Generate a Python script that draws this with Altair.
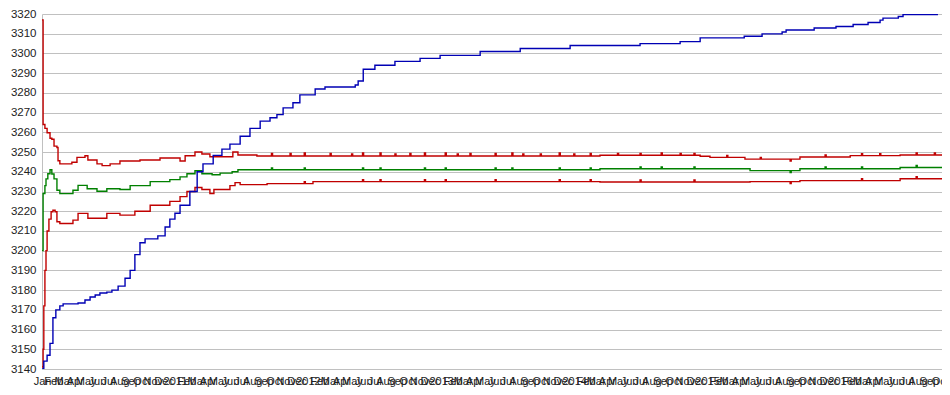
import altair as alt
import pandas as pd

START = pd.Timestamp("2010-01-01")

# day offsets from start, values
blue_day = [0, 5, 14, 22, 30, 38, 49, 58, 99, 118, 132, 146, 159, 178, 192, 209, 228, 242, 255, 269, 283, 318,
            338, 351, 365, 379, 406, 426, 442, 470, 494, 516, 544, 571, 599, 626, 645, 662, 689, 708, 750, 777,
            860, 868, 882, 914, 969, 1038, 1093, 1203, 1313, 1450, 1642, 1752, 1807, 1928, 1977, 2032, 2043,
            2120, 2180, 2227, 2268, 2301, 2309, 2351, 2364, 2458, 2493]
blue_val = [3140, 3144, 3147, 3153, 3166, 3170, 3172, 3173, 3173.5, 3175, 3176.5, 3177.5, 3178.5, 3179, 3180,
            3182, 3186, 3190, 3198, 3204, 3206, 3207.5, 3212, 3216, 3219, 3223, 3230, 3240, 3244, 3248.3, 3251.5,
            3254, 3258, 3262, 3265.7, 3267.4, 3269, 3272.4, 3275, 3279, 3282, 3283, 3284, 3286, 3292, 3294, 3296,
            3297.5, 3299, 3301, 3302.5, 3304, 3305, 3306, 3307.9, 3308.7, 3309.9, 3310.9, 3311.9, 3312.9, 3313.7,
            3314.7, 3315.7, 3316.9, 3317.9, 3318.7, 3319.7, 3320.7, 3320.7]

upper_day = [0, 3, 8, 14, 22, 27, 33, 41, 44, 49, 82, 96, 118, 126, 151, 165, 187, 214, 269, 324, 379, 393, 420,
             439, 461, 524, 538, 590, 630, 633, 681, 684, 720, 723, 791, 794, 850, 853, 880, 883, 928, 931, 969,
             972, 1010, 1013, 1050, 1053, 1107, 1110, 1140, 1143, 1175, 1178, 1244, 1247, 1290, 1293, 1320, 1323,
             1368, 1371, 1420, 1423, 1460, 1463, 1505, 1508, 1532, 1580, 1583, 1642, 1645, 1700, 1703, 1752, 1755,
             1790, 1793, 1807, 1834, 1880, 1883, 1930, 1972, 1975, 2054, 2057, 2081, 2150, 2153, 2219, 2250, 2253,
             2300, 2303, 2356, 2400, 2403, 2450, 2453, 2493]
upper_val = [3317, 3264, 3262, 3259.8, 3257, 3256.5, 3253, 3252.3, 3245.6, 3244, 3244.8, 3247.3, 3248.1, 3246,
             3244, 3243.1, 3244, 3245.5, 3246, 3247, 3245.5, 3248.1, 3250, 3249, 3247.6, 3250, 3248.5, 3248,
             3249.3, 3248, 3249.3, 3248, 3249.5, 3248, 3249.3, 3248, 3249, 3248, 3249.5, 3248, 3249.5, 3248, 3249,
             3248, 3249.3, 3248, 3249.5, 3248, 3249.5, 3248, 3249, 3248, 3249.3, 3248, 3249.3, 3248, 3249.5, 3248,
             3249, 3248, 3249, 3248, 3249.5, 3248, 3249, 3248, 3249.3, 3248, 3248.4, 3249.3, 3248.4, 3249.3,
             3248.4, 3249.5, 3248.4, 3249.3, 3248.4, 3249.3, 3248.4, 3247.9, 3247.3, 3248.3, 3247.3, 3246.4,
             3247.3, 3246.4, 3245.5, 3246.4, 3247.5, 3248.5, 3247.5, 3248.2, 3249.2, 3248.2, 3249.2, 3248.2,
             3248.5, 3249.5, 3248.5, 3249.5, 3248.5, 3248.5]

mid_day = [0, 3, 8, 11, 16, 22, 27, 33, 41, 49, 85, 99, 124, 151, 178, 214, 242, 297, 351, 379, 398, 420, 439,
           467, 489, 522, 538, 630, 633, 720, 723, 880, 883, 928, 931, 1050, 1053, 1107, 1110, 1244, 1247, 1290,
           1293, 1420, 1423, 1505, 1508, 1532, 1642, 1645, 1700, 1703, 1790, 1793, 1944, 2054, 2057, 2081, 2150,
           2153, 2250, 2253, 2356, 2400, 2403, 2493]
mid_val = [3200, 3229, 3233, 3236.4, 3239, 3241, 3238.9, 3236.4, 3230.6, 3228.9, 3230.6, 3233.1, 3231.4, 3230.1,
           3231.4, 3231, 3233, 3235, 3236, 3237.4, 3239, 3240.5, 3239, 3238.5, 3239.3, 3240, 3241, 3242, 3241,
           3242, 3241, 3242, 3241, 3242, 3241, 3242, 3241, 3242, 3241, 3242, 3241, 3242, 3241, 3242, 3241, 3242,
           3241, 3241.5, 3242.5, 3241.5, 3242.5, 3241.5, 3242.5, 3241.5, 3240.6, 3239.6, 3240.6, 3241.5, 3242.5,
           3241.5, 3242.5, 3241.5, 3242.2, 3243.2, 3242.2, 3242.2]

lower_day = [0, 3, 5, 8, 11, 14, 19, 25, 30, 36, 41, 49, 85, 99, 126, 178, 214, 255, 297, 351, 379, 398, 420, 439,
             461, 472, 516, 530, 544, 618, 720, 723, 744, 880, 883, 928, 931, 1050, 1053, 1107, 1110, 1244, 1247,
             1420, 1423, 1505, 1508, 1532, 1642, 1645, 1790, 1793, 1944, 2054, 2057, 2081, 2250, 2253, 2356, 2400,
             2403, 2493]
lower_val = [3141, 3150, 3172, 3190, 3200, 3210, 3216, 3219.7, 3220.5, 3219.7, 3214.7, 3213.8, 3215.5, 3218.9,
             3216.4, 3218.9, 3218, 3220, 3223, 3225, 3227.4, 3230, 3232, 3231, 3229, 3231, 3233, 3234.5, 3233.5,
             3234, 3235, 3234, 3235, 3236, 3235, 3236, 3235, 3236, 3235, 3236, 3235, 3236, 3235, 3236, 3235, 3236,
             3235, 3234.8, 3235.8, 3234.8, 3235.8, 3234.8, 3235, 3234, 3235, 3235.5, 3236.5, 3235.5, 3236.5,
             3237.5, 3236.5, 3236.5]

Y_TICKS = list(range(3140, 3321, 10))
FONT = "Liberation Sans"


def frame(days, vals):
    return pd.DataFrame({"date": START + pd.to_timedelta(days, unit="D"), "value": vals})


x_enc = alt.X(
    "date:T",
    scale=alt.Scale(domain=[alt.DateTime(year=2010, month=1, date=1), alt.DateTime(year=2016, month=10, date=7)],
                    nice=False),
    axis=alt.Axis(
        title=None, grid=False, ticks=False, labelPadding=6, labelOverlap=False, labelFlush=False,
        tickCount=alt.TimeIntervalStep(interval="month", step=1),
        labelExpr="month(datum.value) == 0 ? (year(datum.value) == 2010 ? 'Jan' : timeFormat(datum.value, '%Y')) : timeFormat(datum.value, '%b')",
        domainColor="#c0c0c0", labelFont=FONT, labelFontSize=11, labelColor="#222222",
    ),
)
y_enc = alt.Y(
    "value:Q",
    scale=alt.Scale(domain=[3140, 3320], nice=False, zero=False),
    axis=alt.Axis(
        title=None, values=Y_TICKS, format="d", grid=True, gridColor="#c0c0c0", ticks=False, labelPadding=6,
        domainColor="#c0c0c0", labelFont=FONT, labelFontSize=11.5, labelColor="#222222",
    ),
)


def line(days, vals, color):
    return alt.Chart(frame(days, vals)).mark_line(
        interpolate="step-after", color=color, strokeWidth=1.4, clip=True
    ).encode(x=x_enc, y=y_enc)


chart = alt.layer(
    line(upper_day, upper_val, "#c00000"),
    line(lower_day, lower_val, "#c00000"),
    line(mid_day, mid_val, "#008000"),
    line(blue_day, blue_val, "#0000b4"),
).properties(
    width=900, height=355,
    autosize=alt.AutoSizeParams(type="none"),
    padding={"left": 34, "top": 6, "right": 0, "bottom": 18},
    background="white",
).configure_view(stroke=None)

chart.save("out.html", embed_options={"renderer": "svg", "actions": False})
